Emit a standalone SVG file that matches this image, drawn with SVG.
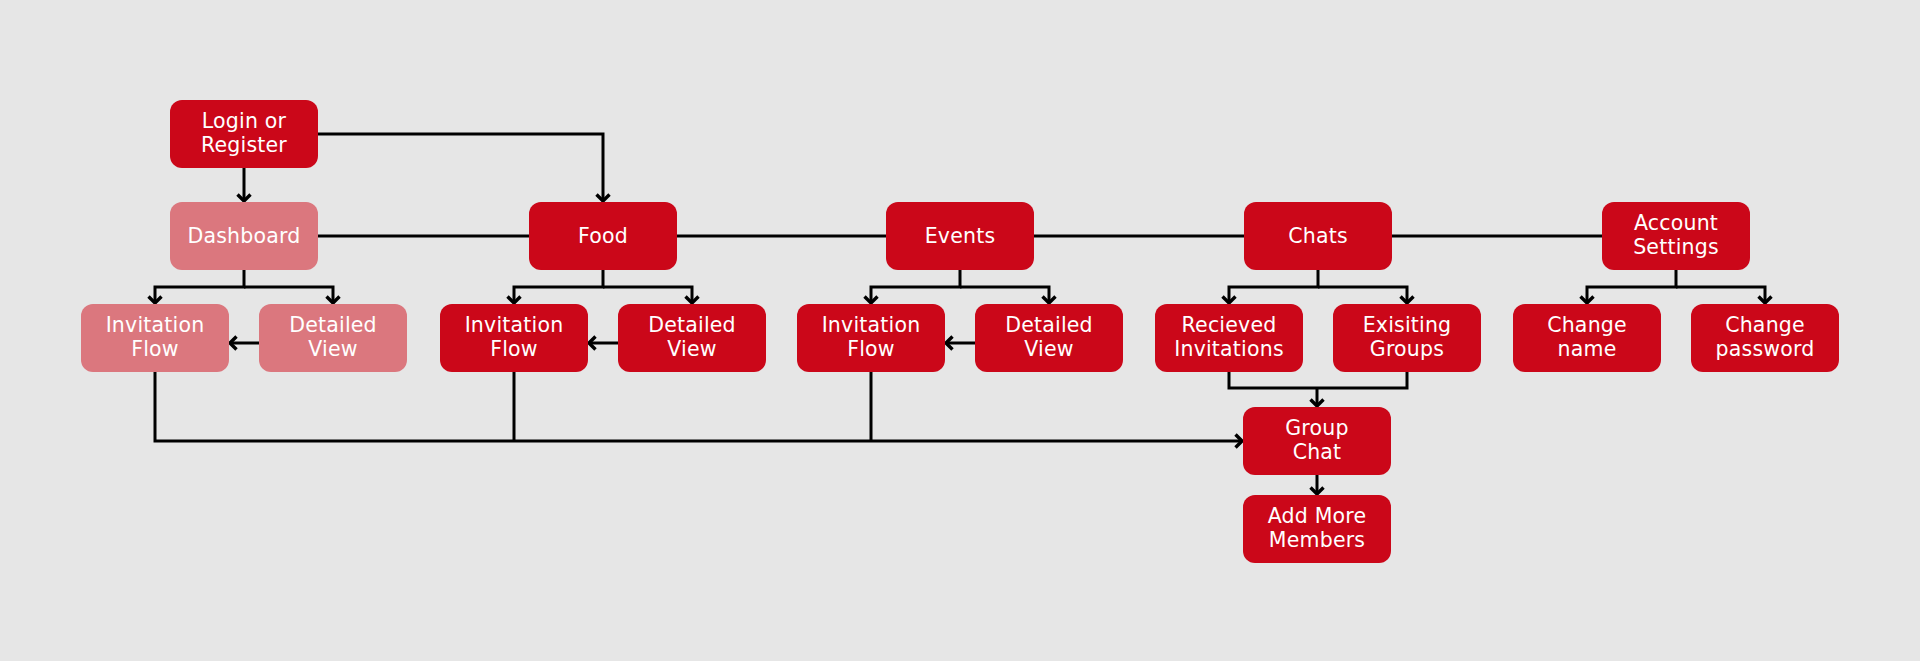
<svg xmlns="http://www.w3.org/2000/svg" width="1920" height="661" viewBox="0 0 1920 661">
<defs>
<style>
.box{fill:#cb0719;}
.fade{fill:#db777e;}
.t{font-family:"DejaVu Sans","Liberation Sans",sans-serif;font-size:20.5px;fill:#ffffff;text-anchor:middle;dominant-baseline:central;letter-spacing:0.2px;}
.c{fill:none;stroke:#000;stroke-width:3;}
</style>
<marker id="arr" viewBox="-10 -9 12 18" markerWidth="12" markerHeight="18" refX="0" refY="0" orient="auto" markerUnits="userSpaceOnUse">
<path d="M-6.5,-6.5 L0,0 L-6.5,6.5" fill="none" stroke="#000" stroke-width="3.4"/>
</marker>
</defs>
<rect x="0" y="0" width="1920" height="661" fill="#e6e6e6"/>
<g id="connectors">
<path class="c" d="M318,134 H603 V201" marker-end="url(#arr)"/>
<path class="c" d="M244,168 V201" marker-end="url(#arr)"/>
<path class="c" d="M318,236 H1602"/>
<path class="c" d="M244,270 V287 H155 V303" marker-end="url(#arr)"/>
<path class="c" d="M244,287 H333 V303" marker-end="url(#arr)"/>
<path class="c" d="M603,270 V287 H514 V303" marker-end="url(#arr)"/>
<path class="c" d="M603,287 H692 V303" marker-end="url(#arr)"/>
<path class="c" d="M960,270 V287 H871 V303" marker-end="url(#arr)"/>
<path class="c" d="M960,287 H1049 V303" marker-end="url(#arr)"/>
<path class="c" d="M1318,270 V287 H1229 V303" marker-end="url(#arr)"/>
<path class="c" d="M1318,287 H1407 V303" marker-end="url(#arr)"/>
<path class="c" d="M1676,270 V287 H1587 V303" marker-end="url(#arr)"/>
<path class="c" d="M1676,287 H1765 V303" marker-end="url(#arr)"/>
<path class="c" d="M259,343 H230" marker-end="url(#arr)"/>
<path class="c" d="M618,343 H589" marker-end="url(#arr)"/>
<path class="c" d="M975,343 H946" marker-end="url(#arr)"/>
<path class="c" d="M155,372 V441 H1242" marker-end="url(#arr)"/>
<path class="c" d="M514,372 V441"/>
<path class="c" d="M871,372 V441"/>
<path class="c" d="M1229,372 V388 H1407 V372"/>
<path class="c" d="M1317,388 V406" marker-end="url(#arr)"/>
<path class="c" d="M1317,475 V494" marker-end="url(#arr)"/>
</g>
<g id="login"><rect class="box" x="170" y="100" width="148" height="68" rx="12"/><text class="t" x="244" y="121">Login or</text><text class="t" x="244" y="145">Register</text></g>
<g id="dashboard"><rect class="fade" x="170" y="202" width="148" height="68" rx="12"/><text class="t" x="244" y="236">Dashboard</text></g>
<g id="food"><rect class="box" x="529" y="202" width="148" height="68" rx="12"/><text class="t" x="603" y="236">Food</text></g>
<g id="events"><rect class="box" x="886" y="202" width="148" height="68" rx="12"/><text class="t" x="960" y="236">Events</text></g>
<g id="chats"><rect class="box" x="1244" y="202" width="148" height="68" rx="12"/><text class="t" x="1318" y="236">Chats</text></g>
<g id="account"><rect class="box" x="1602" y="202" width="148" height="68" rx="12"/><text class="t" x="1676" y="223">Account</text><text class="t" x="1676" y="247">Settings</text></g>
<g id="dash-invitation"><rect class="fade" x="81" y="304" width="148" height="68" rx="12"/><text class="t" x="155" y="325">Invitation</text><text class="t" x="155" y="349">Flow</text></g>
<g id="dash-detailed"><rect class="fade" x="259" y="304" width="148" height="68" rx="12"/><text class="t" x="333" y="325">Detailed</text><text class="t" x="333" y="349">View</text></g>
<g id="food-invitation"><rect class="box" x="440" y="304" width="148" height="68" rx="12"/><text class="t" x="514" y="325">Invitation</text><text class="t" x="514" y="349">Flow</text></g>
<g id="food-detailed"><rect class="box" x="618" y="304" width="148" height="68" rx="12"/><text class="t" x="692" y="325">Detailed</text><text class="t" x="692" y="349">View</text></g>
<g id="events-invitation"><rect class="box" x="797" y="304" width="148" height="68" rx="12"/><text class="t" x="871" y="325">Invitation</text><text class="t" x="871" y="349">Flow</text></g>
<g id="events-detailed"><rect class="box" x="975" y="304" width="148" height="68" rx="12"/><text class="t" x="1049" y="325">Detailed</text><text class="t" x="1049" y="349">View</text></g>
<g id="received"><rect class="box" x="1155" y="304" width="148" height="68" rx="12"/><text class="t" x="1229" y="325">Recieved</text><text class="t" x="1229" y="349">Invitations</text></g>
<g id="existing"><rect class="box" x="1333" y="304" width="148" height="68" rx="12"/><text class="t" x="1407" y="325">Exisiting</text><text class="t" x="1407" y="349">Groups</text></g>
<g id="change-name"><rect class="box" x="1513" y="304" width="148" height="68" rx="12"/><text class="t" x="1587" y="325">Change</text><text class="t" x="1587" y="349">name</text></g>
<g id="change-password"><rect class="box" x="1691" y="304" width="148" height="68" rx="12"/><text class="t" x="1765" y="325">Change</text><text class="t" x="1765" y="349">password</text></g>
<g id="group-chat"><rect class="box" x="1243" y="407" width="148" height="68" rx="12"/><text class="t" x="1317" y="428">Group</text><text class="t" x="1317" y="452">Chat</text></g>
<g id="add-members"><rect class="box" x="1243" y="495" width="148" height="68" rx="12"/><text class="t" x="1317" y="516">Add More</text><text class="t" x="1317" y="540">Members</text></g>
</svg>
